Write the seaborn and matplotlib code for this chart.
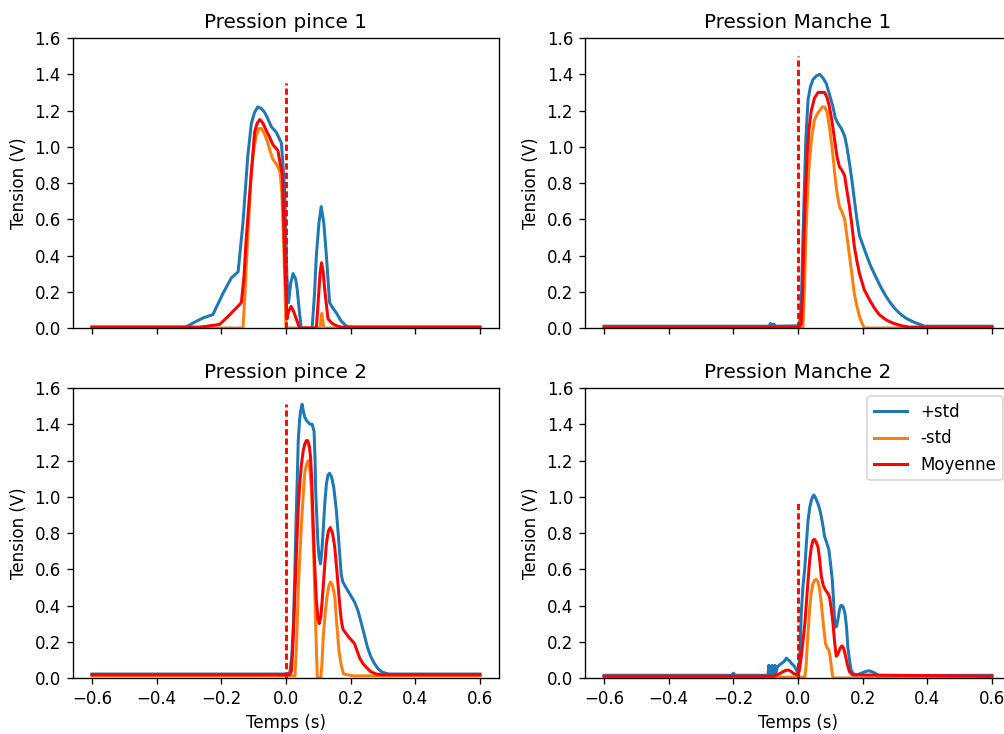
import matplotlib
matplotlib.use("Agg")
import matplotlib.pyplot as plt
import seaborn as sns

# Pression pince 1
pince1_t_plus = [-0.6, -0.31, -0.285, -0.257, -0.226, -0.195, -0.169, -0.148, -0.133, -0.118, -0.107, -0.097,
                 -0.087, -0.076, -0.066, -0.055, -0.045, -0.030, -0.014, -0.004, 0.003, 0.008, 0.015, 0.022,
                 0.030, 0.035, 0.041, 0.047, 0.081, 0.088, 0.094, 0.102, 0.109, 0.117, 0.125, 0.135, 0.145,
                 0.156, 0.170, 0.187, 0.20, 0.6]
pince1_plus = [0.005, 0.005, 0.03, 0.055, 0.074, 0.19, 0.276, 0.31, 0.58, 0.95, 1.13, 1.19,
               1.22, 1.21, 1.19, 1.15, 1.11, 1.08, 1.02, 0.76, 0.28, 0.14, 0.25, 0.30,
               0.27, 0.21, 0.10, 0.0, 0.0, 0.18, 0.40, 0.58, 0.67, 0.58, 0.40, 0.14, 0.11,
               0.083, 0.04, 0.01, 0.005, 0.005]
pince1_t_moins = [-0.6, -0.133, -0.127, -0.121, -0.114, -0.107, -0.100, -0.092, -0.084, -0.076, -0.066,
                  -0.056, -0.048, -0.040, -0.028, -0.018, -0.013, -0.009, -0.003, 0.0, 0.105, 0.108,
                  0.111, 0.114, 0.117, 0.6]
pince1_moins = [0, 0, 0.18, 0.40, 0.64, 0.86, 0.98, 1.06, 1.10, 1.10, 1.07,
                1.02, 0.97, 0.93, 0.90, 0.86, 0.75, 0.58, 0.21, 0.0, 0.0, 0.04,
                0.08, 0.04, 0.0, 0]
pince1_t_moy = [-0.6, -0.267, -0.235, -0.205, -0.179, -0.154, -0.138, -0.130, -0.123, -0.115, -0.107,
                -0.097, -0.089, -0.081, -0.071, -0.061, -0.050, -0.040, -0.025, -0.011, -0.004, 0.003,
                0.008, 0.016, 0.024, 0.032, 0.042, 0.094, 0.098, 0.102, 0.106, 0.110, 0.115, 0.120,
                0.130, 0.143, 0.156, 0.17, 0.6]
pince1_moy = [0.005, 0.005, 0.012, 0.02, 0.064, 0.11, 0.14, 0.28, 0.49, 0.68, 0.86,
              1.08, 1.13, 1.15, 1.13, 1.09, 1.05, 1.01, 0.98, 0.84, 0.40, 0.05,
              0.09, 0.12, 0.09, 0.05, 0.0, 0.0, 0.10, 0.21, 0.31, 0.36, 0.31, 0.21,
              0.05, 0.025, 0.013, 0.005, 0.005]

# Pression Manche 1
manche1_t_plus = [-0.6, -0.09, -0.085, -0.08, -0.075, -0.07, 0.0, 0.007, 0.011, 0.015, 0.020, 0.024,
                  0.031, 0.038, 0.046, 0.056, 0.067, 0.077, 0.087, 0.097, 0.108, 0.115, 0.123, 0.134,
                  0.144, 0.151, 0.159, 0.167, 0.174, 0.182, 0.190, 0.200, 0.210, 0.225, 0.241, 0.256,
                  0.272, 0.287, 0.303, 0.318, 0.333, 0.349, 0.364, 0.377, 0.390, 0.6]
manche1_plus = [0.01, 0.01, 0.025, 0.01, 0.022, 0.01, 0.012, 0.046, 0.2, 0.49, 0.80, 1.04,
                1.26, 1.33, 1.37, 1.39, 1.40, 1.38, 1.35, 1.29, 1.22, 1.16, 1.13, 1.10,
                1.06, 1.00, 0.91, 0.81, 0.71, 0.60, 0.51, 0.46, 0.41, 0.34, 0.28, 0.225,
                0.175, 0.135, 0.10, 0.075, 0.055, 0.04, 0.028, 0.02, 0.01, 0.01]
manche1_t_moins = [-0.6, 0.015, 0.020, 0.024, 0.029, 0.034, 0.042, 0.051, 0.059, 0.067, 0.075, 0.082,
                   0.090, 0.097, 0.105, 0.113, 0.120, 0.128, 0.136, 0.144, 0.151, 0.159, 0.167, 0.174,
                   0.182, 0.190, 0.198, 0.205, 0.6]
manche1_moins = [0, 0, 0.22, 0.49, 0.72, 0.89, 1.05, 1.15, 1.18, 1.20, 1.22, 1.22,
                 1.19, 1.11, 1.00, 0.86, 0.75, 0.67, 0.64, 0.60, 0.51, 0.40, 0.29, 0.19,
                 0.12, 0.064, 0.025, 0.0, 0]
manche1_t_moy = [-0.6, 0.0, 0.006, 0.010, 0.014, 0.018, 0.023, 0.028, 0.034, 0.041, 0.051, 0.062,
                 0.072, 0.082, 0.090, 0.097, 0.105, 0.113, 0.120, 0.128, 0.136, 0.144, 0.151, 0.159,
                 0.167, 0.174, 0.182, 0.190, 0.205, 0.221, 0.236, 0.251, 0.272, 0.292, 0.318, 0.344, 0.6]
manche1_moy = [0.005, 0.005, 0.01, 0.028, 0.2, 0.49, 0.75, 0.95, 1.10, 1.20, 1.27, 1.30,
               1.30, 1.30, 1.27, 1.22, 1.14, 1.04, 0.95, 0.89, 0.87, 0.84, 0.76, 0.67,
               0.56, 0.45, 0.37, 0.30, 0.21, 0.156, 0.11, 0.074, 0.045, 0.028, 0.013, 0.005, 0.005]

# Pression pince 2
pince2_t_plus = [-0.6, 0.005, 0.012, 0.018, 0.023, 0.027, 0.031, 0.035, 0.038, 0.042, 0.045, 0.050,
                 0.054, 0.058, 0.064, 0.069, 0.075, 0.081, 0.087, 0.090, 0.092, 0.096, 0.099, 0.103,
                 0.107, 0.111, 0.115, 0.120, 0.125, 0.130, 0.135, 0.141, 0.148, 0.155, 0.161, 0.166,
                 0.171, 0.176, 0.182, 0.192, 0.202, 0.212, 0.223, 0.232, 0.242, 0.252, 0.262, 0.272,
                 0.283, 0.295, 0.310, 0.320, 0.6]
pince2_plus = [0.022, 0.022, 0.03, 0.12, 0.30, 0.55, 0.85, 1.10, 1.31, 1.42, 1.47, 1.51,
               1.47, 1.44, 1.42, 1.41, 1.40, 1.40, 1.36, 1.20, 1.03, 0.86, 0.74, 0.66,
               0.63, 0.70, 0.81, 0.96, 1.07, 1.12, 1.13, 1.11, 1.05, 0.94, 0.81, 0.69,
               0.57, 0.53, 0.51, 0.48, 0.45, 0.42, 0.37, 0.31, 0.24, 0.17, 0.12, 0.085,
               0.055, 0.035, 0.025, 0.022, 0.022]
pince2_t_moins = [-0.6, 0.028, 0.033, 0.038, 0.043, 0.048, 0.053, 0.058, 0.064, 0.069, 0.074, 0.079,
                  0.084, 0.089, 0.093, 0.097, 0.108, 0.112, 0.115, 0.121, 0.127, 0.133, 0.138, 0.144,
                  0.151, 0.157, 0.164, 0.171, 0.178, 0.207, 0.6]
pince2_moins = [0.012, 0.012, 0.2, 0.48, 0.68, 0.85, 1.00, 1.13, 1.18, 1.20, 1.15, 1.03,
                0.78, 0.48, 0.22, 0.0, 0.0, 0.10, 0.22, 0.35, 0.45, 0.51, 0.53, 0.51,
                0.45, 0.30, 0.15, 0.07, 0.022, 0.012, 0.012]
pince2_t_moy = [-0.6, 0.010, 0.014, 0.017, 0.022, 0.028, 0.033, 0.038, 0.043, 0.048, 0.053, 0.058,
                0.063, 0.067, 0.072, 0.076, 0.080, 0.084, 0.089, 0.094, 0.099, 0.103, 0.108, 0.113,
                0.119, 0.125, 0.131, 0.137, 0.144, 0.151, 0.158, 0.166, 0.171, 0.176, 0.184, 0.192,
                0.202, 0.212, 0.220, 0.228, 0.238, 0.248, 0.262, 0.279, 0.295, 0.310, 0.6]
pince2_moy = [0.018, 0.018, 0.025, 0.04, 0.20, 0.48, 0.72, 0.94, 1.08, 1.18, 1.25, 1.29,
              1.31, 1.31, 1.28, 1.22, 1.08, 0.85, 0.62, 0.43, 0.33, 0.30, 0.34, 0.45,
              0.60, 0.74, 0.81, 0.83, 0.80, 0.72, 0.58, 0.41, 0.32, 0.27, 0.25, 0.23,
              0.21, 0.19, 0.15, 0.11, 0.08, 0.06, 0.035, 0.022, 0.018, 0.018, 0.018]

# Pression Manche 2
manche2_t_plus = [-0.6, -0.205, -0.2, -0.195, -0.093, -0.0905, -0.088, -0.083, -0.0805, -0.078, -0.074,
                  -0.0715, -0.069, -0.064, -0.059, -0.051, -0.044, -0.036, -0.031, -0.026,
                  -0.021, -0.014, -0.007, -0.002, 0.003, 0.006, 0.010, 0.015, 0.021, 0.026, 0.031, 0.036,
                  0.041, 0.045, 0.049, 0.055, 0.062, 0.067, 0.072, 0.077, 0.082, 0.088, 0.095, 0.100,
                  0.106, 0.110, 0.113, 0.117, 0.120, 0.124, 0.128, 0.132, 0.136, 0.140, 0.145, 0.150,
                  0.154, 0.159, 0.164, 0.170, 0.179, 0.190, 0.200, 0.210, 0.218, 0.228, 0.239, 0.245,
                  0.251, 0.6]
manche2_plus = [0.015, 0.015, 0.027, 0.015, 0.015, 0.07, 0.015, 0.015, 0.07, 0.015, 0.02,
                0.07, 0.03, 0.06, 0.07, 0.081, 0.09, 0.11, 0.10, 0.095,
                0.081, 0.07, 0.053, 0.03, 0.044, 0.15, 0.36, 0.50, 0.61, 0.75, 0.87, 0.94,
                0.98, 1.00, 1.01, 0.99, 0.96, 0.93, 0.89, 0.84, 0.78, 0.75, 0.71, 0.64,
                0.54, 0.42, 0.32, 0.28, 0.29, 0.33, 0.375, 0.40, 0.40, 0.39, 0.357, 0.28,
                0.17, 0.10, 0.044, 0.025, 0.017, 0.022, 0.03, 0.036, 0.04, 0.035, 0.026, 0.018,
                0.013, 0.015]
manche2_t_moins = [-0.6, 0.021, 0.025, 0.028, 0.032, 0.036, 0.041, 0.046, 0.051, 0.056, 0.062, 0.067,
                   0.072, 0.077, 0.081, 0.085, 0.090, 0.095, 0.099, 0.103, 0.106, 0.108, 0.6]
manche2_moins = [0.005, 0.005, 0.07, 0.17, 0.28, 0.39, 0.47, 0.52, 0.54, 0.544, 0.53, 0.485,
                 0.41, 0.32, 0.25, 0.19, 0.165, 0.155, 0.12, 0.063, 0.02, 0.0, 0.0]
manche2_t_moy = [-0.6, -0.075, -0.067, -0.056, -0.046, -0.038, -0.031, -0.023, -0.015, -0.007, 0.0,
                 0.005, 0.010, 0.015, 0.021, 0.026, 0.031, 0.036, 0.041, 0.046, 0.051, 0.056, 0.062,
                 0.067, 0.072, 0.078, 0.085, 0.091, 0.097, 0.103, 0.108, 0.113, 0.118, 0.123, 0.128,
                 0.132, 0.136, 0.141, 0.147, 0.153, 0.159, 0.169, 0.6]
manche2_moy = [0.01, 0.01, 0.017, 0.025, 0.035, 0.042, 0.044, 0.038, 0.026, 0.02, 0.017,
               0.05, 0.12, 0.20, 0.30, 0.42, 0.54, 0.65, 0.72, 0.76, 0.765, 0.75, 0.72,
               0.65, 0.56, 0.51, 0.485, 0.47, 0.45, 0.38, 0.30, 0.20, 0.12, 0.13, 0.155,
               0.17, 0.177, 0.165, 0.12, 0.07, 0.035, 0.017, 0.01]

titres = ["Pression pince 1", "Pression Manche 1", "Pression pince 2", "Pression Manche 2"]
hauteur_trigger = [1.35, 1.50, 1.51, 0.97]
libelles = ["+std", "-std", "Moyenne"]
couleurs = ["#1f77b4", "#ff7f0e", "red"]

panneaux = [
    [(pince1_t_plus, pince1_plus), (pince1_t_moins, pince1_moins), (pince1_t_moy, pince1_moy)],
    [(manche1_t_plus, manche1_plus), (manche1_t_moins, manche1_moins), (manche1_t_moy, manche1_moy)],
    [(pince2_t_plus, pince2_plus), (pince2_t_moins, pince2_moins), (pince2_t_moy, pince2_moy)],
    [(manche2_t_plus, manche2_plus), (manche2_t_moins, manche2_moins), (manche2_t_moy, manche2_moy)],
]

fig, axes = plt.subplots(2, 2, sharex=True, figsize=(1004 / 120, 734 / 120), dpi=120)
fig.subplots_adjust(left=0.0723, right=1.0074, bottom=0.0763, top=0.9482, wspace=0.2, hspace=0.207)

for i, ax in enumerate(axes.flat):
    for (t, v), lab, col in zip(panneaux[i], libelles, couleurs):
        sns.lineplot(x=t, y=v, ax=ax, color=col, linewidth=1.8,
                     label=lab if i == 3 else None, legend=(i == 3))
    # instant du declenchement
    ax.vlines(0, 0, hauteur_trigger[i], colors="red", linestyles=(0, (2.2, 1.1)), linewidth=1.7)
    ax.set_title(titres[i])
    ax.set_xlabel("Temps (s)")
    ax.set_ylabel("Tension (V)")
    ax.set_ylim(0, 1.6)
    ax.tick_params(labelbottom=(i >= 2))

axes[1, 1].legend(loc="upper right")

plt.savefig("out.png", dpi=120)
